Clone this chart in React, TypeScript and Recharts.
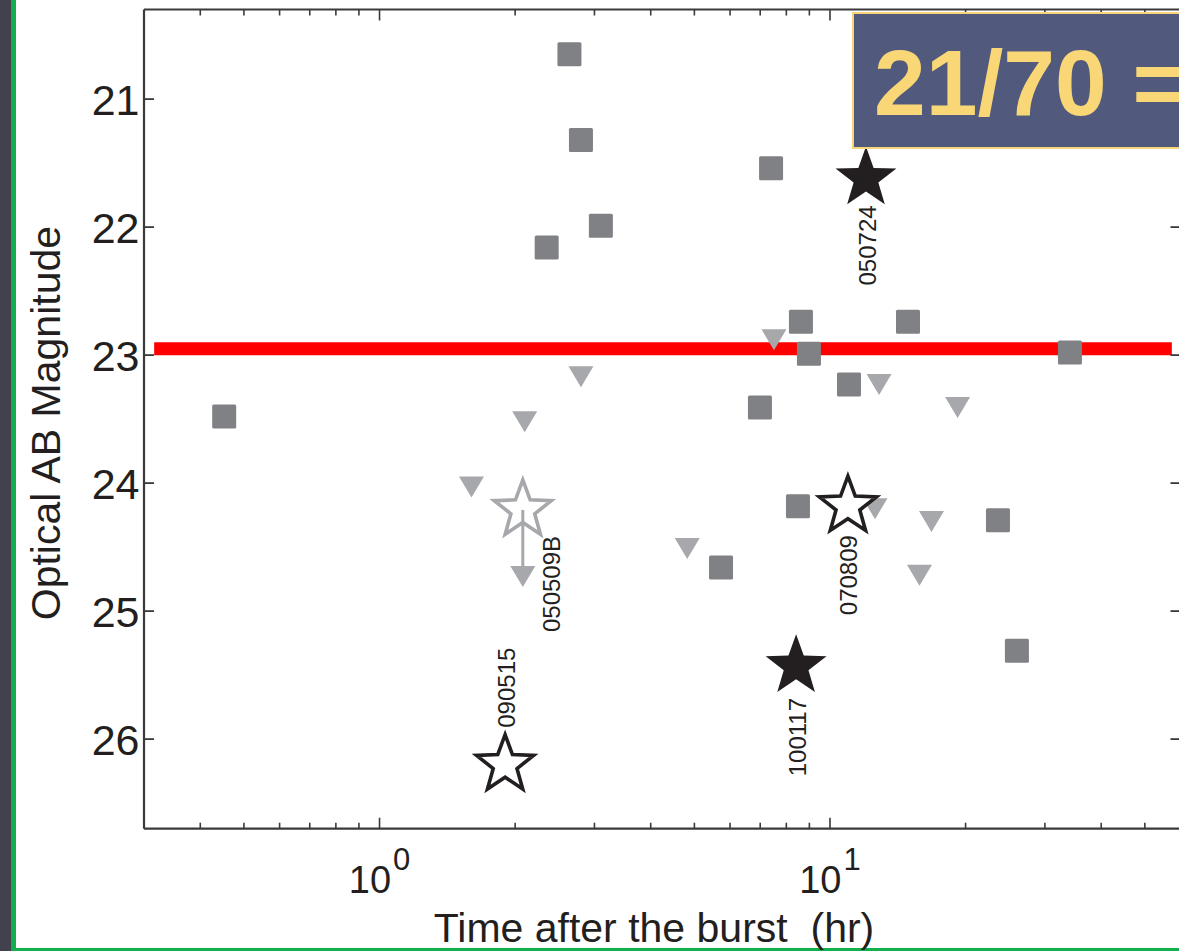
import React from 'react';
import { ScatterChart, Scatter, XAxis, YAxis, ReferenceLine } from 'recharts';

// ---------- data ----------
// detected afterglows (grey squares): time after burst [hr], AB magnitude
const squareTime = [2.64, 2.8, 2.35, 3.1, 7.4, 8.62, 8.98, 6.99, 11.02, 14.9, 34.1, 0.452, 8.49, 5.73, 23.6, 26.0];
const squareMag = [20.65, 21.32, 22.16, 21.99, 21.54, 22.74, 22.99, 23.41, 23.23, 22.74, 22.98, 23.48, 24.18, 24.66, 24.29, 25.31];

// upper limits (light grey down triangles)
const limitTime = [2.8, 2.1, 7.51, 12.85, 19.2, 1.6, 4.82, 12.59, 16.8, 15.8];
const limitMag = [23.17, 23.52, 22.88, 23.23, 23.41, 24.03, 24.51, 24.2, 24.3, 24.72];

// short GRBs marked by stars
const starNames = ['050724', '070809', '100117', '090515', '050509B'];
const starTime = [12.02, 10.96, 8.41, 1.9, 2.08];
const starMag = [21.62, 24.18, 25.43, 26.2, 24.21];
const starKind = ['filled', 'open', 'filled', 'open', 'limit'];
const limitArrowMag = 24.73; // arrow head under 050509B

// red threshold line
const thresholdMag = 22.95;
const thresholdFrom = 0.316;
const thresholdTo = 57.4;

// axes
const xDomain = [0.3, 60];
const xTicks = [0.4, 0.5, 0.6, 0.7, 0.8, 0.9, 1, 2, 3, 4, 5, 6, 7, 8, 9, 10, 20, 30, 40, 50];
const xMajor = [1, 10];
const yDomain = [20.3, 26.7];
const yTicks = [21, 22, 23, 24, 25, 26];

const xLabel = 'Time after the burst  (hr)';
const yLabel = 'Optical AB Magnitude';
const boxText = '21/70 =';

// ---------- styles ----------
const FONT = '"Liberation Sans", Arial, Helvetica, sans-serif';
const INK = '#231f20';
const AXIS = '#3a3a3a';
const SQUARE_FILL = '#808185';
const TRI_FILL = '#a7a8ab';

const labelOffset: Record<string, [number, number]> = {
  '050724': [1.5, 67],
  '070809': [1, 69],
  '100117': [1, 71],
  '090515': [1, -77],
  '050509B': [29, 74],
};

const squareData = squareTime.map((t, i) => ({ t, mag: squareMag[i] }));
const limitData = limitTime.map((t, i) => ({ t, mag: limitMag[i] }));
const arrowData = [{ t: starTime[4], mag: limitArrowMag }];
const starData = starNames.map((name, i) => ({ name, t: starTime[i], mag: starMag[i], kind: starKind[i] }));

function starPath(cx: number, cy: number, R: number, r: number) {
  let d = '';
  for (let i = 0; i < 10; i++) {
    const ang = -Math.PI / 2 + (i * Math.PI) / 5;
    const rad = i % 2 === 0 ? R : r;
    d += (i === 0 ? 'M' : 'L') + (cx + rad * Math.cos(ang)).toFixed(2) + ',' + (cy + rad * Math.sin(ang)).toFixed(2);
  }
  return d + 'Z';
}

const SquareShape = (p: any) => {
  const { cx, cy } = p;
  if (cx == null || cy == null) return <g />;
  return <rect x={cx - 12} y={cy - 12} width={24} height={24} rx={1.5} fill={SQUARE_FILL} />;
};

const TriangleShape = (p: any) => {
  const { cx, cy } = p;
  if (cx == null || cy == null) return <g />;
  const w = 12.5;
  const h = 10.5;
  return <polygon points={`${cx - w},${cy - h} ${cx + w},${cy - h} ${cx},${cy + h}`} fill={TRI_FILL} />;
};

const StarShape = (p: any) => {
  const { cx, cy, payload } = p;
  if (cx == null || cy == null) return <g />;
  const kind = payload.kind;
  const off = labelOffset[payload.name] || [0, 60];
  let star;
  if (kind === 'filled') {
    star = <path d={starPath(cx, cy, 32, 13)} fill={INK} />;
  } else if (kind === 'open') {
    star = <path d={starPath(cx, cy, 30, 12.5)} fill="#ffffff" stroke={INK} strokeWidth={3.6} strokeLinejoin="miter" />;
  } else {
    star = <path d={starPath(cx, cy, 30, 12.5)} fill="none" stroke={TRI_FILL} strokeWidth={3.6} strokeLinejoin="miter" />;
  }
  const lx = cx + off[0];
  const ly = cy + off[1];
  return (
    <g>
      {star}
      <text
        x={lx}
        y={ly}
        transform={`rotate(-90, ${lx}, ${ly})`}
        textAnchor="middle"
        dominantBaseline="central"
        fontFamily={FONT}
        fontSize={24}
        fill={INK}
      >
        {payload.name}
      </text>
    </g>
  );
};

const BottomTick = (p: any) => {
  const { x, y, payload } = p;
  const v = payload.value;
  const major = xMajor.includes(v);
  const len = major ? 11 : 6;
  return (
    <g>
      <line x1={x} x2={x} y1={y} y2={y - len} stroke={AXIS} strokeWidth={1.6} />
      {major && (
        <text x={x} y={y + 64} textAnchor="middle" fontFamily={FONT} fill={INK}>
          <tspan fontSize={38}>10</tspan>
          <tspan fontSize={31} dx={2} dy={-23}>
            {String(Math.round(Math.log10(v)))}
          </tspan>
        </text>
      )}
    </g>
  );
};

const TopTick = (p: any) => {
  const { x, y, payload } = p;
  const major = xMajor.includes(payload.value);
  const len = major ? 11 : 6;
  return <line x1={x} x2={x} y1={y} y2={y + len} stroke={AXIS} strokeWidth={1.6} />;
};

const LeftTick = (p: any) => {
  const { x, y, payload } = p;
  return (
    <g>
      <line x1={x} x2={x + 10} y1={y} y2={y} stroke={AXIS} strokeWidth={1.8} />
      <text x={x - 4.5} y={y + 16} textAnchor="end" fontFamily={FONT} fontSize={43} fill={INK}>
        {payload.value}
      </text>
    </g>
  );
};

const RightTick = (p: any) => {
  const { x, y } = p;
  return <line x1={x} x2={x - 10} y1={y} y2={y} stroke={AXIS} strokeWidth={1.8} />;
};

const XLabelContent = () => (
  <text
    x={654}
    y={942}
    textAnchor="middle"
    fontFamily={FONT}
    fontSize={41}
    fill={INK}
    xmlSpace="preserve"
    style={{ whiteSpace: 'pre' }}
  >
    {xLabel}
  </text>
);

const YLabelContent = (p: any) => {
  const vb = p.viewBox || { y: 9.5, height: 819 };
  const cy = vb.y + vb.height / 2 + 4;
  return (
    <text x={60} y={cy} transform={`rotate(-90, 60, ${cy})`} textAnchor="middle" fontFamily={FONT} fontSize={41} fill={INK}>
      {yLabel}
    </text>
  );
};

export default function App() {
  return (
    <div
      style={{
        position: 'fixed',
        left: 0,
        top: 0,
        width: 1179,
        height: 951,
        overflow: 'hidden',
        background: '#ffffff',
      }}
    >
      <div style={{ position: 'absolute', left: 0, top: 0, width: 11, height: 951, background: '#42424e' }} />
      <div style={{ position: 'absolute', left: 11, top: 0, width: 5, height: 951, background: '#11b04c' }} />
      <div style={{ position: 'absolute', left: 11, top: 948, width: 1168, height: 3, background: '#11b04c' }} />
      <div style={{ position: 'absolute', left: 0, top: 0 }}>
        <ScatterChart
          width={1200}
          height={951}
          margin={{ top: 4.5, right: 9.5, bottom: 62.3, left: 84 }}
          style={{ fontFamily: FONT }}
        >
          <XAxis
            xAxisId="b"
            dataKey="t"
            type="number"
            scale="log"
            domain={xDomain}
            ticks={xTicks}
            interval={0}
            allowDataOverflow
            height={60}
            tickSize={0}
            tickMargin={0}
            tickLine={false}
            tick={BottomTick}
            axisLine={{ stroke: AXIS, strokeWidth: 2.2 }}
            label={<XLabelContent />}
          />
          <XAxis
            xAxisId="t"
            orientation="top"
            dataKey="t"
            type="number"
            scale="log"
            domain={xDomain}
            ticks={xTicks}
            interval={0}
            allowDataOverflow
            height={5}
            tickSize={0}
            tickMargin={0}
            tickLine={false}
            tick={TopTick}
            axisLine={{ stroke: AXIS, strokeWidth: 2.2 }}
          />
          <YAxis
            yAxisId="l"
            dataKey="mag"
            type="number"
            domain={yDomain}
            ticks={yTicks}
            interval={0}
            reversed
            allowDataOverflow
            width={60}
            tickSize={0}
            tickMargin={0}
            tickLine={false}
            tick={LeftTick}
            axisLine={{ stroke: AXIS, strokeWidth: 2.2 }}
            label={<YLabelContent />}
          />
          <YAxis
            yAxisId="r"
            orientation="right"
            dataKey="mag"
            type="number"
            domain={yDomain}
            ticks={yTicks}
            interval={0}
            reversed
            allowDataOverflow
            width={10}
            tickSize={0}
            tickMargin={0}
            tickLine={false}
            tick={RightTick}
            axisLine={{ stroke: AXIS, strokeWidth: 2.2 }}
          />
          <Scatter xAxisId="b" yAxisId="l" data={squareData} shape={SquareShape} isAnimationActive={false} />
          <Scatter xAxisId="b" yAxisId="l" data={limitData} shape={TriangleShape} isAnimationActive={false} />
          <ReferenceLine
            xAxisId="b"
            yAxisId="l"
            segment={[
              { x: starTime[4], y: starMag[4] },
              { x: starTime[4], y: limitArrowMag - 0.08 },
            ]}
            stroke={TRI_FILL}
            strokeWidth={3}
          />
          <Scatter xAxisId="b" yAxisId="l" data={arrowData} shape={TriangleShape} isAnimationActive={false} />
          <Scatter xAxisId="b" yAxisId="l" data={starData} shape={StarShape} isAnimationActive={false} />
          <ReferenceLine
            xAxisId="b"
            yAxisId="l"
            segment={[
              { x: thresholdFrom, y: thresholdMag },
              { x: thresholdTo, y: thresholdMag },
            ]}
            stroke="#ff0000"
            strokeWidth={13}
          />
        </ScatterChart>
      </div>
      <svg style={{ position: 'absolute', left: 0, top: 0 }} width={1179} height={951} pointerEvents="none">
        <rect x={853} y={13} width={400} height={135} fill="#515a7c" stroke="#f5d47a" strokeWidth={2} />
        <text x={874} y={115} fontFamily={FONT} fontWeight="bold" fontSize={93} fill="#f9d776">
          {boxText}
        </text>
      </svg>
    </div>
  );
}
